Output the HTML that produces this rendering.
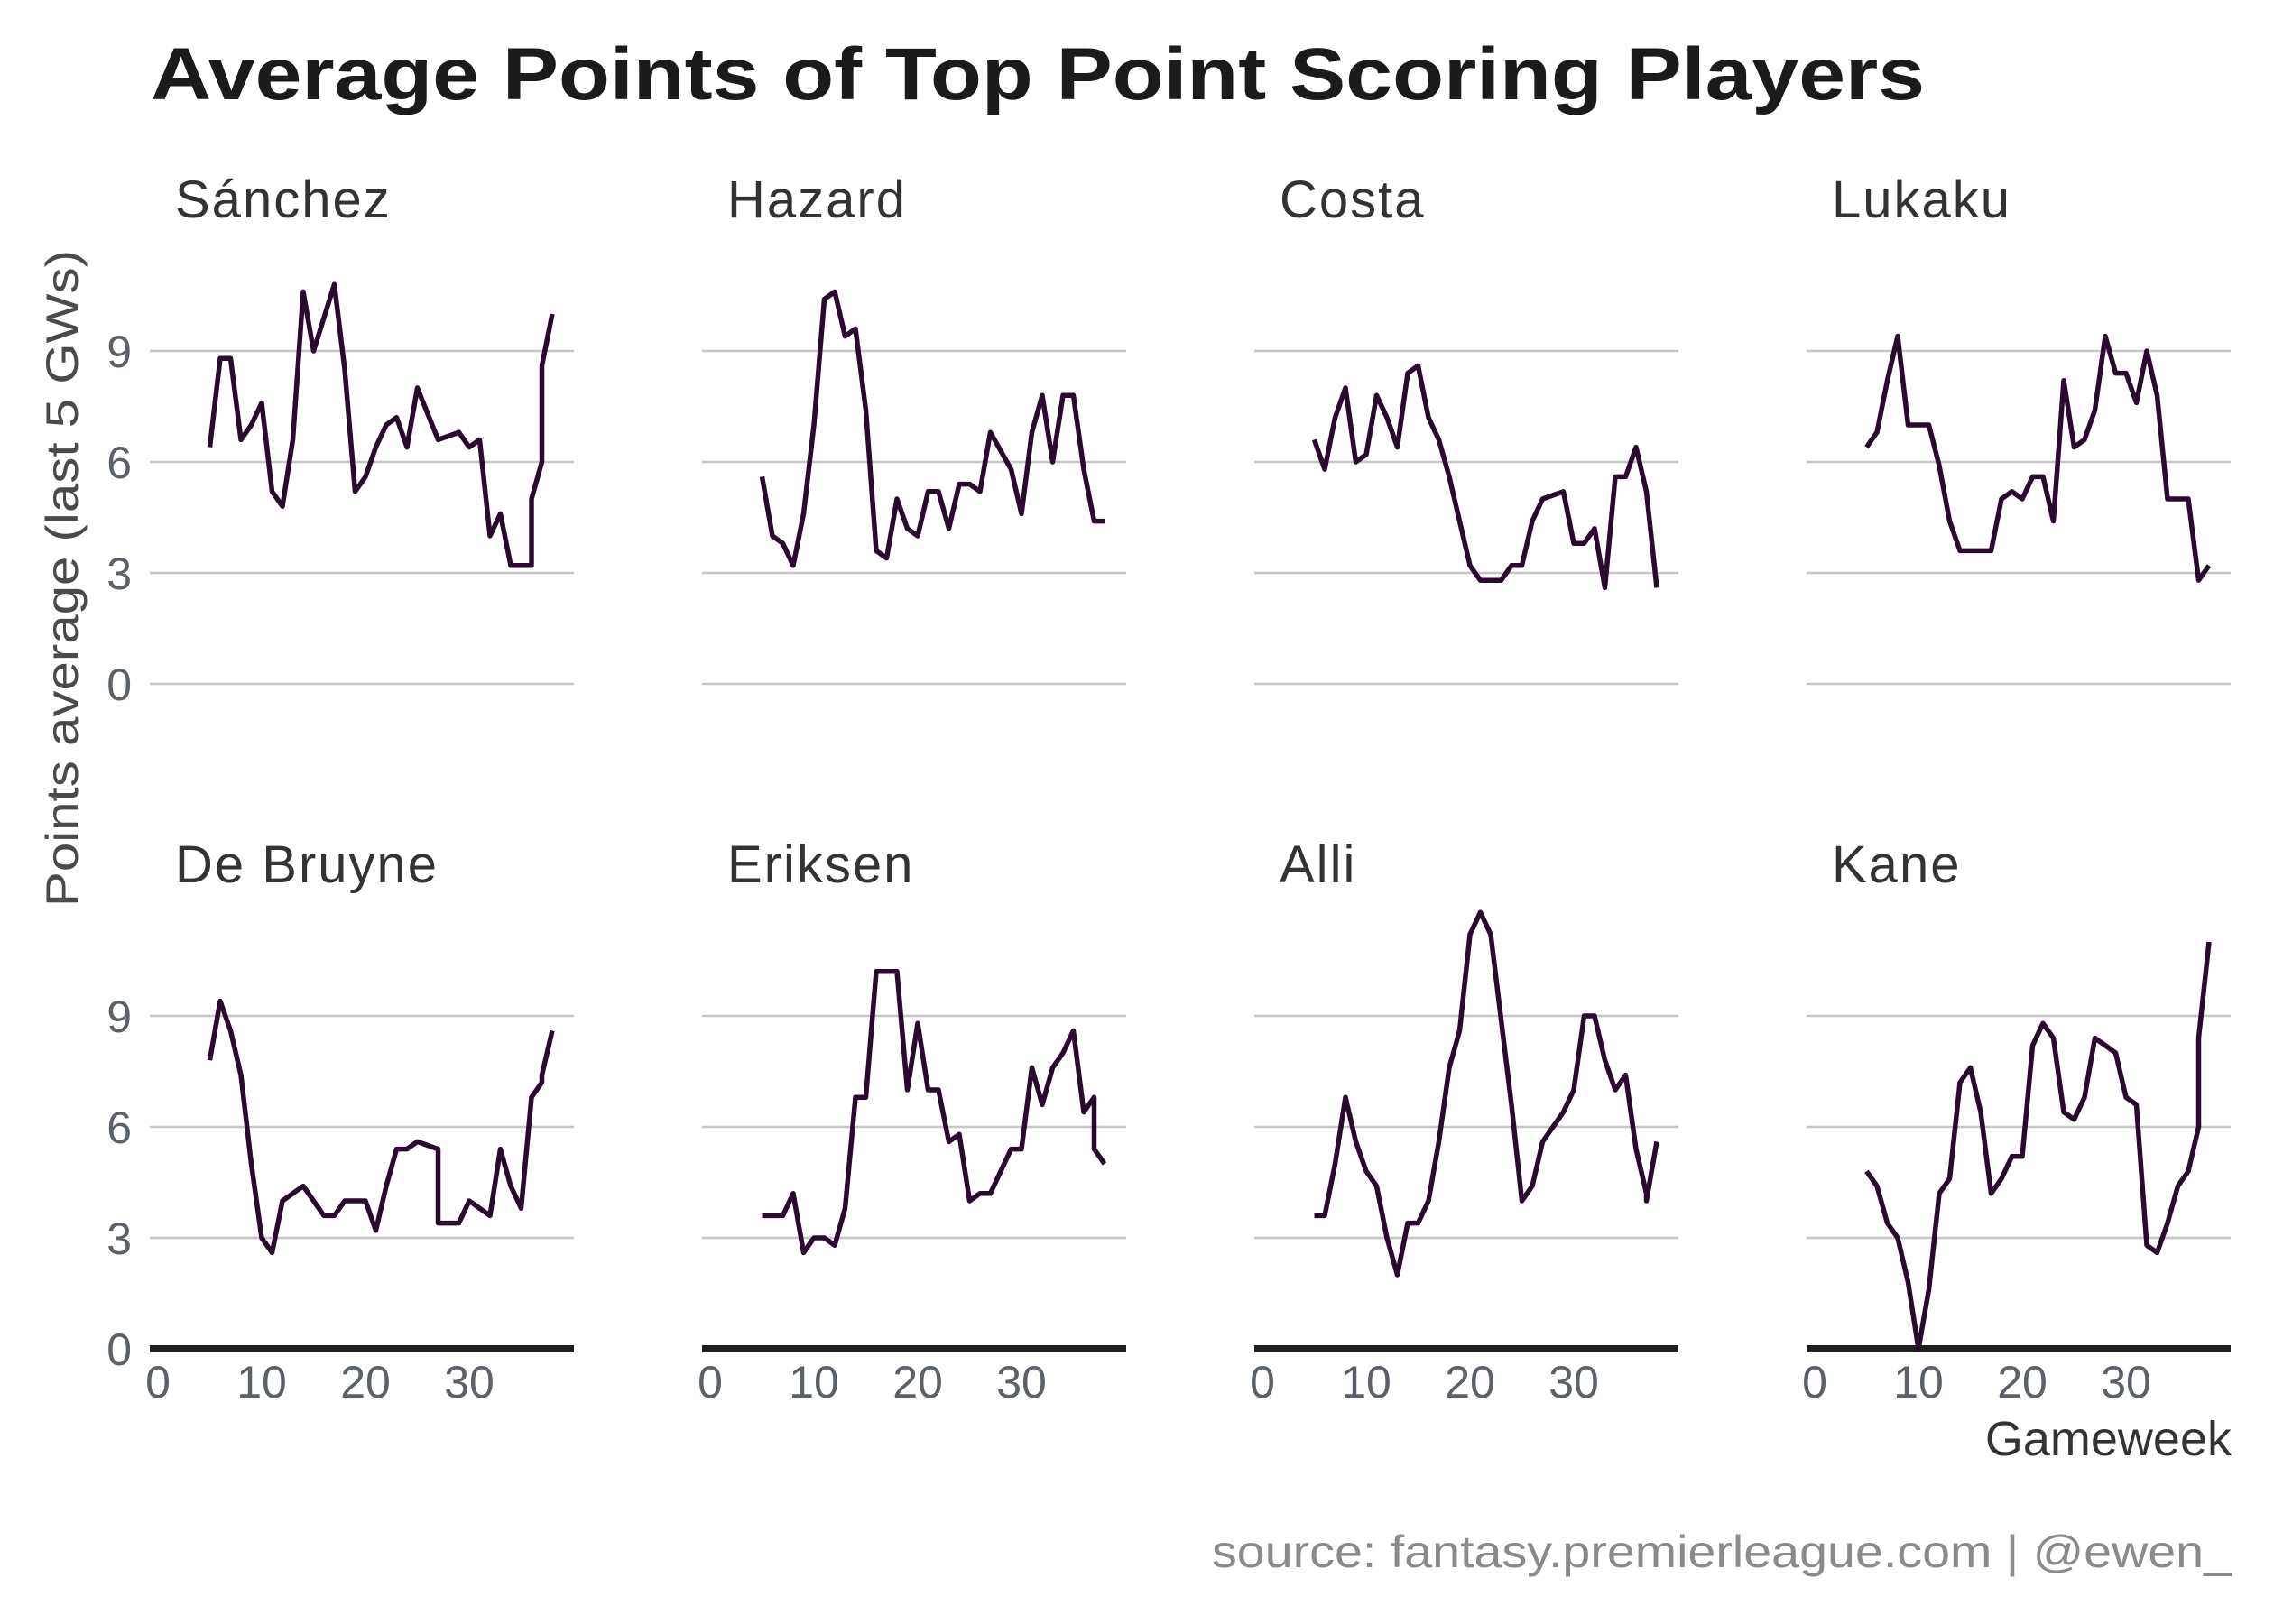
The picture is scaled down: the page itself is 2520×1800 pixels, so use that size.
<!DOCTYPE html>
<html><head><meta charset="utf-8"><style>
html,body{margin:0;padding:0;background:#fff;}
svg{display:block;}
text{font-family:"Liberation Sans",sans-serif;}
</style></head><body>
<svg id="chart" width="2520" height="1800" viewBox="0 0 2520 1800" xmlns="http://www.w3.org/2000/svg">
<rect width="2520" height="1800" fill="#fff"/>
<text x="167" y="110" font-size="82" font-weight="bold" fill="#1b1b1b" textLength="1966" lengthAdjust="spacingAndGlyphs">Average Points of Top Point Scoring Players</text>
<text transform="translate(86,1005) rotate(-90)" font-size="50" fill="#4a4a4a" textLength="728" lengthAdjust="spacingAndGlyphs">Points average (last 5 GWs)</text>
<text x="2473" y="1613" font-size="54" fill="#333" text-anchor="end">Gameweek</text>
<text x="2473" y="1737" font-size="50" fill="#8a8a8a" text-anchor="end" textLength="1130" lengthAdjust="spacingAndGlyphs">source: fantasy.premierleague.com | @ewen_</text>
<g id="panels"></g>
</svg>
<script>
const players = ["Sánchez","Hazard","Costa","Lukaku","De Bruyne","Eriksen","Alli","Kane"];
const yTicks = [0,3,6,9];
const xTicks = [0,10,20,30];
const gwSanchez = [5,6,7,8,9,10,11,12,13,14,15,16,17,18,19,20,21,22,23,24,25,26,27,28,29,30,31,32,33,34,35,36,36,37,37,38];
const ptsSanchez = [6.4,8.8,8.8,6.6,7.0,7.6,5.2,4.8,6.6,10.6,9.0,9.9,10.8,8.5,5.2,5.6,6.4,7.0,7.2,6.4,8.0,7.3,6.6,6.7,6.8,6.4,6.6,4.0,4.6,3.2,3.2,3.2,5.0,6.0,8.6,10.0];
const gwHazard = [5,6,7,8,9,10,11,12,13,14,15,16,17,18,19,20,21,22,23,24,25,26,27,28,29,30,31,32,33,34,35,36,37,38];
const ptsHazard = [5.6,4.0,3.8,3.2,4.6,7.0,10.4,10.6,9.4,9.6,7.4,3.6,3.4,5.0,4.2,4.0,5.2,5.2,4.2,5.4,5.4,5.2,6.8,6.3,5.8,4.6,6.8,7.8,6.0,7.8,7.8,5.8,4.4,4.4];
const gwCosta = [5,6,7,8,9,10,11,12,13,14,15,16,17,18,19,20,21,22,23,24,25,26,27,28,29,30,31,32,33,34,35,36,37,38];
const ptsCosta = [6.6,5.8,7.2,8.0,6.0,6.2,7.8,7.2,6.4,8.4,8.6,7.2,6.6,5.6,4.4,3.2,2.8,2.8,2.8,3.2,3.2,4.4,5.0,5.1,5.2,3.8,3.8,4.2,2.6,5.6,5.6,6.4,5.2,2.6];
const gwLukaku = [5,6,7,8,9,10,11,12,13,14,15,16,17,18,19,20,21,22,23,24,25,26,27,28,29,30,31,32,33,34,35,36,37,38];
const ptsLukaku = [6.4,6.8,8.2,9.4,7.0,7.0,7.0,5.9,4.4,3.6,3.6,3.6,3.6,5.0,5.2,5.0,5.6,5.6,4.4,8.2,6.4,6.6,7.4,9.4,8.4,8.4,7.6,9.0,7.8,5.0,5.0,5.0,2.8,3.2];
const gwDeBruyne = [5,6,7,8,9,10,11,12,13,14,15,16,17,18,19,20,21,22,23,24,25,26,27,27,28,29,30,31,32,33,34,35,36,37,37,38];
const ptsDeBruyne = [7.8,9.4,8.6,7.4,5.0,3.0,2.6,4.0,4.2,4.4,4.0,3.6,3.6,4.0,4.0,4.0,3.2,4.4,5.4,5.4,5.6,5.5,5.4,3.4,3.4,3.4,4.0,3.8,3.6,5.4,4.4,3.8,6.8,7.2,7.4,8.6];
const gwEriksen = [5,6,7,8,9,10,11,12,13,14,15,16,17,18,19,20,21,22,23,24,25,26,27,28,29,30,31,32,33,34,35,36,37,37,38];
const ptsEriksen = [3.6,3.6,3.6,4.2,2.6,3.0,3.0,2.8,3.8,6.8,6.8,10.2,10.2,10.2,7.0,8.8,7.0,7.0,5.6,5.8,4.0,4.2,4.2,4.8,5.4,5.4,7.6,6.6,7.6,8.0,8.6,6.4,6.8,5.4,5.0];
const gwAlli = [5,6,7,8,9,10,11,12,13,14,15,16,17,18,19,20,21,22,23,24,25,26,27,28,29,30,31,32,33,34,35,36,37,37,38];
const ptsAlli = [3.6,3.6,5.0,6.8,5.6,4.8,4.4,3.0,2.0,3.4,3.4,4.0,5.6,7.6,8.6,11.2,11.8,11.2,8.9,6.6,4.0,4.4,5.6,6.0,6.4,7.0,9.0,9.0,7.8,7.0,7.4,5.4,4.2,4.0,5.6];
const gwKane = [5,6,7,8,9,10,11,12,13,14,15,16,17,18,19,20,21,22,23,24,25,26,27,28,29,30,31,32,33,34,35,36,37,37,38];
const ptsKane = [4.8,4.4,3.4,3.0,1.8,0,1.6,4.2,4.6,7.2,7.6,6.4,4.2,4.6,5.2,5.2,8.2,8.8,8.4,6.4,6.2,6.8,8.4,8.2,8.0,6.8,6.6,2.8,2.6,3.4,4.4,4.8,6.0,8.4,11.0];

const gwAll = [gwSanchez,gwHazard,gwCosta,gwLukaku,gwDeBruyne,gwEriksen,gwAlli,gwKane];
const ptsAll = [ptsSanchez,ptsHazard,ptsCosta,ptsLukaku,ptsDeBruyne,ptsEriksen,ptsAlli,ptsKane];

const NS = "http://www.w3.org/2000/svg";
const root = document.getElementById('panels');
function mk(tag, attrs, parent){const e=document.createElementNS(NS,tag);for(const k in attrs)e.setAttribute(k,attrs[k]);parent.appendChild(e);return e;}
const panelLefts = [166,778,1390,2002];
const panelW = 470;
const zeroY = [758,1495];
const unit = 41;
const slugs = ["sanchez","hazard","costa","lukaku","de-bruyne","eriksen","alli","kane"];

players.forEach((name,i)=>{
  const col=i%4, row=Math.floor(i/4);
  const left=panelLefts[col];
  const xs = gw => left + 9 + gw*11.5;
  const ys = v => zeroY[row] - v*unit;
  const g = mk('g',{},root);
  
  
  const t = mk('text',{x:left+28,y:zeroY[row]-517,'font-size':58,fill:'#333','letter-spacing':'2'},g);
  t.textContent = name;
  
  
  yTicks.forEach(v=>{
    if(row===1 && v===0) return;
    const l = mk('line',{x1:left,x2:left+panelW,y1:ys(v),y2:ys(v),stroke:'#c6c6c6','stroke-width':2.5},g);
    
    
  });
  if(row===1){
    const a = mk('line',{x1:left,x2:left+panelW,y1:ys(0),y2:ys(0),stroke:'#1e1e1e','stroke-width':8},g);
    
    
    xTicks.forEach(v=>{
      const tx = mk('text',{x:xs(v),y:1549,'font-size':50,fill:'#5b6168','text-anchor':'middle'},g);
      tx.textContent = v;
      
      
    });
  }
  if(col===0){
    yTicks.forEach(v=>{
      const ty = mk('text',{x:146,y:ys(v)+18,'font-size':50,fill:'#5b6168','text-anchor':'end'},g);
      ty.textContent = v;
      
      
    });
  }
  const gws=gwAll[i], pts=ptsAll[i];
  const d = pts.map((v,k)=>(k?'L':'M')+xs(gws[k]).toFixed(1)+','+ys(v).toFixed(1)).join(' ');
  const p = mk('path',{d:d,fill:'none',stroke:'#2b0a30','stroke-width':5.5,'stroke-linejoin':'round'},g);
  
  
});
</script>
</body></html>
